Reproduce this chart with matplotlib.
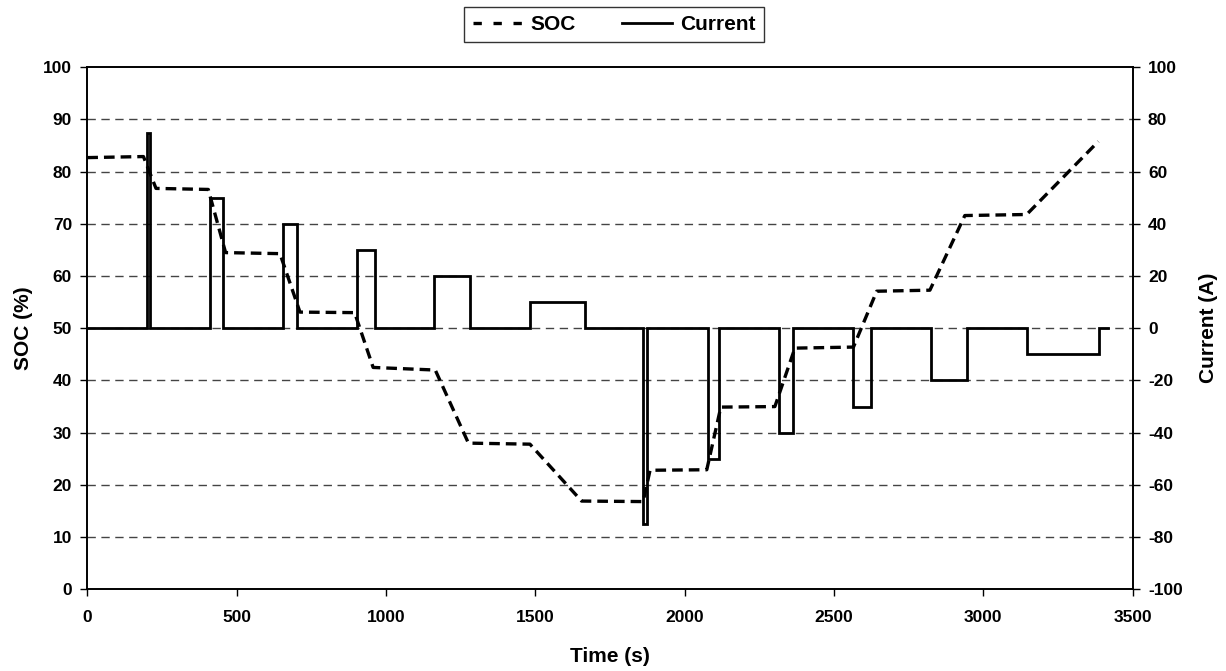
import matplotlib.pyplot as plt
from matplotlib.lines import Line2D
import numpy as np

plt.rcParams['font.family'] = ['Liberation Sans', 'DejaVu Sans']
plt.rcParams['font.weight'] = 'bold'
plt.rcParams['axes.unicode_minus'] = False

# current pulses (s, s, A)
pulse_start = [200, 411, 654, 902, 1161, 1482, 1861, 2077, 2316, 2563, 2824, 3145]
pulse_end = [211, 455, 703, 963, 1281, 1666, 1874, 2116, 2364, 2623, 2946, 3387]
pulse_amp = [75, 50, 40, 30, 20, 10, -75, -50, -40, -30, -20, -10]
t_end = 3416

# SOC breakpoints
soc_t = [0, 188, 230, 405, 463, 645, 712, 895, 957, 1165, 1276, 1482, 1655,
         1861, 1884, 2074, 2121, 2302, 2369, 2565, 2643, 2821, 2938, 3145, 3385]
soc_v = [82.7, 82.9, 76.8, 76.6, 64.5, 64.3, 53.1, 53.0, 42.5, 42.0, 28.0, 27.8, 16.9,
         16.8, 22.8, 22.9, 34.9, 35.0, 46.2, 46.4, 57.1, 57.3, 71.6, 71.8, 85.8]

# build step series for current
cur_t = [0]
cur_v = [0]
for s, e, a in zip(pulse_start, pulse_end, pulse_amp):
    cur_t += [s, s, e, e]
    cur_v += [0, a, a, 0]
cur_t.append(t_end)
cur_v.append(0)

fig = plt.figure(figsize=(12.26, 6.71), dpi=100)
ax = fig.add_axes([0.0712, 0.1218, 0.8527, 0.7779])
ax2 = ax.twinx()

ax.set_xlim(0, 3500)
ax.set_ylim(0, 100)
ax2.set_ylim(-100, 100)
ax.set_yticks(np.arange(0, 101, 10))
ax2.set_yticks(np.arange(-100, 101, 20))
ax.set_xticks(np.arange(0, 3501, 500))

for y in range(10, 100, 10):
    ax.axhline(y, color='#444444', lw=1.0, ls=(0, (6, 4)), zorder=0)

soc_line, = ax.plot(soc_t, soc_v, color='black', lw=2.4, ls=(0, (3.2, 1.8)), zorder=3)
cur_line, = ax2.plot(cur_t, cur_v, color='black', lw=2.0, solid_joinstyle='miter', zorder=3)

for a in (ax, ax2):
    a.tick_params(direction='out', length=5, width=1, labelsize=12.5, pad=6)
    for sp in a.spines.values():
        sp.set_linewidth(1.2)
ax.tick_params(axis='x', pad=10)

ax.set_ylabel('SOC (%)', fontsize=15, fontweight='bold')
ax.yaxis.set_label_coords(-0.052, 0.5)
ax2.set_ylabel('Current (A)', fontsize=15, fontweight='bold')
ax2.yaxis.set_label_coords(1.063, 0.5)
ax.set_xlabel('Time (s)', fontsize=15, fontweight='bold')
ax.xaxis.set_label_coords(0.5, -0.111)

soc_proxy = Line2D([], [], color='black', lw=2.4, ls=(0, (2.5, 3.5)))
cur_proxy = Line2D([], [], color='black', lw=2.0)
leg = fig.legend([soc_proxy, cur_proxy], ['SOC', 'Current'], loc='upper center',
                 bbox_to_anchor=(0.501, 0.99), ncol=2, frameon=True, fancybox=False,
                 edgecolor='black', fontsize=15, handlelength=2.4, handletextpad=0.4,
                 columnspacing=2.2, borderpad=0.4, borderaxespad=0)
leg.get_frame().set_linewidth(1.0)

fig.savefig('out.png', dpi=100)
